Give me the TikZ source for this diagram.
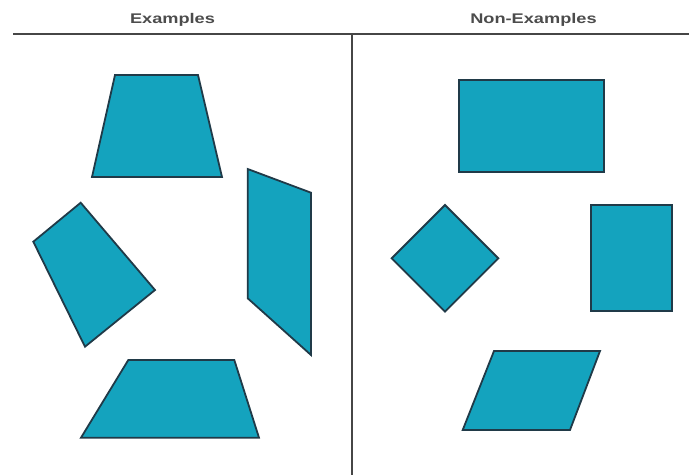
\documentclass[tikz,border=0pt]{standalone}
\usepackage{fontspec}
\setmainfont{Liberation Sans}
\definecolor{shapefill}{RGB}{20,163,190}
\definecolor{shapeedge}{RGB}{32,58,72}
\definecolor{rulegray}{RGB}{70,70,70}
\tikzset{
  quad/.style={fill=shapefill, draw=shapeedge, line width=1.8pt, line join=miter},
  rulestyle/.style={draw=rulegray, line width=1.6pt},
  header/.style={font=\fontsize{14}{16}\selectfont\bfseries, text=black!70, inner sep=0pt, xscale=1.3, anchor=base}
}
\begin{document}
\begin{tikzpicture}[x=1pt,y=-1pt]
\useasboundingbox (0,0) rectangle (689,475);
% header
\node[header] (hex) at (172.5,23.3) {Examples};
\node[header] (hnon) at (533.5,23.3) {Non-Examples};
\coordinate (hl) at (13,34);
\coordinate (hr) at (689,34);
\coordinate (vt) at (351.7,34);
\coordinate (vb) at (351.7,475);
\draw[rulestyle] (hl) -- (hr);
\draw[rulestyle] (vt) -- (vb);
% Examples
\draw[quad] (115,75) -- (198,75) -- (222,177) -- (92,177) -- cycle;
\draw[quad] (80.7,202.7) -- (155,290) -- (85,346.7) -- (33.3,241.7) -- cycle;
\draw[quad] (247.7,169) -- (311,192.7) -- (311,355) -- (247.7,298.3) -- cycle;
\draw[quad] (128.3,360) -- (234.3,360) -- (259,437.7) -- (81,437.7) -- cycle;
% Non-examples
\draw[quad] (459.3,80) rectangle (604.3,171.7);
\draw[quad] (445,205) -- (498.3,258.3) -- (445,311.7) -- (391.7,258.3) -- cycle;
\draw[quad] (590.7,205) rectangle (672.3,311);
\draw[quad] (494,351) -- (600,351) -- (570,430) -- (462.7,430) -- cycle;
\end{tikzpicture}
\end{document}
